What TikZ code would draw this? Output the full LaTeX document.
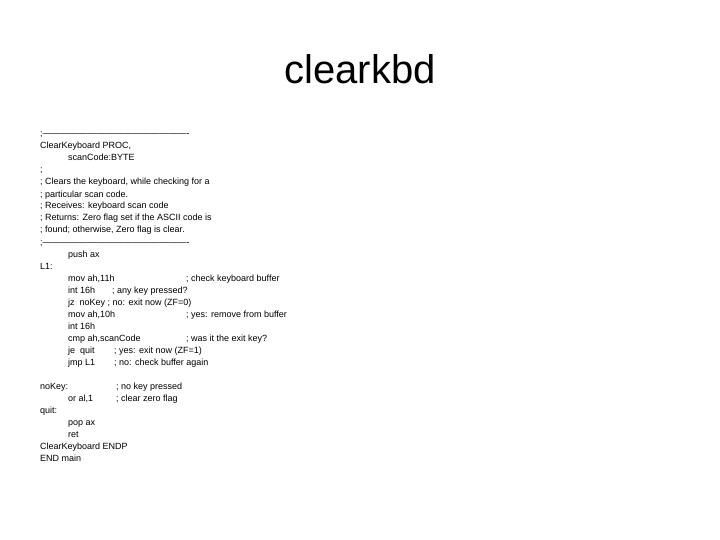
\documentclass[tikz,border=0pt]{standalone}
\usepackage{fontspec}
\setmainfont{Liberation Sans}
\begin{document}
\begin{tikzpicture}[x=1pt,y=-1pt,
 ln/.style={anchor=base west,inner sep=0pt,font=\fontsize{9}{10}\selectfont}]
\useasboundingbox (0,0) rectangle (720,540);
\node[anchor=base,inner sep=0pt,font=\fontsize{40}{44}\selectfont] (title) at (360,84) {clearkbd};
\def\L#1#2#3{\node[ln] (n#1) at (#2,#1+4) {#3};}
\L{133}{40}{;-------------------------------------------------}
\L{145}{40}{ClearKeyboard PROC,}
\L{157}{68}{scanCode:BYTE}
\L{169}{40}{;}
\L{181}{40}{; Clears the keyboard, while checking for a}
\L{193}{40}{; particular scan code.}
\L{205}{40}{; Receives: keyboard scan code}
\L{217}{40}{; Returns: Zero flag set if the ASCII code is}
\L{229}{40}{; found; otherwise, Zero flag is clear.}
\L{241}{40}{;-------------------------------------------------}
\L{253}{68}{push ax}
\L{265}{40}{L1:}
\L{277}{68}{mov ah,11h}
\node[ln] (c277) at (186,281) {; check keyboard buffer};
\L{289}{68}{int 16h}
\node[ln] (c289) at (112,293) {; any key pressed?};
\L{301}{68}{jz\ \ noKey ; no: exit now (ZF=0)}
\L{313}{68}{mov ah,10h}
\node[ln] (c313) at (186,317) {; yes: remove from buffer};
\L{325}{68}{int 16h}
\L{337}{68}{cmp ah,scanCode}
\node[ln] (c337) at (186,341) {; was it the exit key?};
\L{349}{68}{je\ \ quit}
\node[ln] (c349) at (114,353) {; yes: exit now (ZF=1)};
\L{361}{68}{jmp L1}
\node[ln] (c361) at (114,365) {; no: check buffer again};
\L{385}{40}{noKey:}
\node[ln] (c385) at (116,389) {; no key pressed};
\L{397}{68}{or al,1}
\node[ln] (c397) at (116,401) {; clear zero flag};
\L{409}{40}{quit:}
\L{421}{68}{pop ax}
\L{433}{68}{ret}
\L{445}{40}{ClearKeyboard ENDP}
\L{457}{40}{END main}
\end{tikzpicture}
\end{document}
